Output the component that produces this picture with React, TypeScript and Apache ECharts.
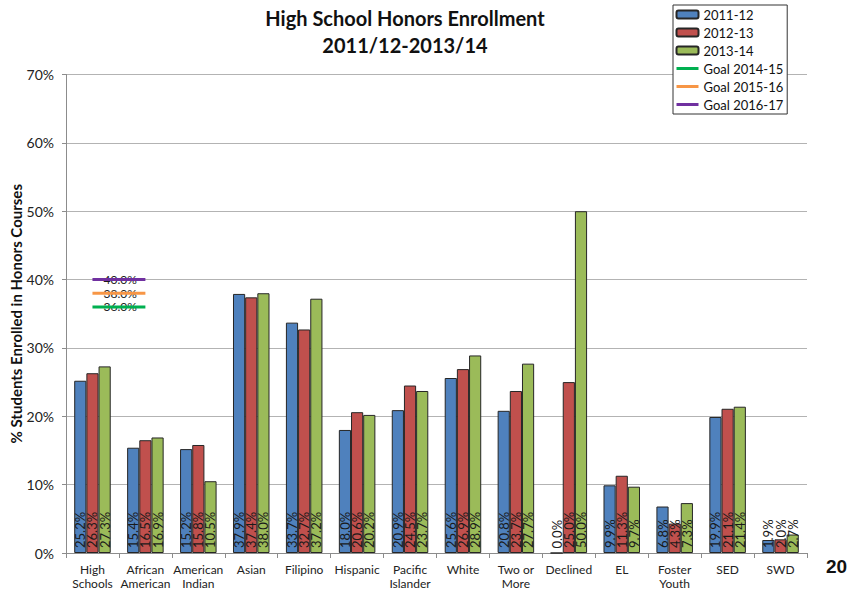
import React, { useEffect, useRef } from "react";
import * as echarts from "echarts";

const categories = [
  "High\nSchools", "African\nAmerican", "American\nIndian", "Asian", "Filipino", "Hispanic",
  "Pacific\nIslander", "White", "Two or\nMore", "Declined", "EL", "Foster\nYouth", "SED", "SWD",
];
const years = ["2011-12", "2012-13", "2013-14"];
const values2011 = [25.2, 15.4, 15.2, 37.9, 33.7, 18.0, 20.9, 25.6, 20.8, 0.0, 9.9, 6.8, 19.9, 1.9];
const values2012 = [26.3, 16.5, 15.8, 37.4, 32.7, 20.6, 24.5, 26.9, 23.7, 25.0, 11.3, 4.3, 21.1, 2.0];
const values2013 = [27.3, 16.9, 10.5, 38.0, 37.2, 20.2, 23.7, 28.9, 27.7, 50.0, 9.7, 7.3, 21.4, 2.7];
const goalNames = ["Goal 2014-15", "Goal 2015-16", "Goal 2016-17"];
const goalValues = [36, 38, 40];
const goalSpan = 2; // goal lines drawn across the first two categories
const yTicks = { min: 0, max: 70, interval: 10 };

const barColors = ["#4F81BD", "#C0504D", "#9BBB59"];
const goalColors = ["#00B050", "#F79646", "#7030A0"];
const FONT = "Lato, 'Open Sans', sans-serif";

export default function App() {
  const ref = useRef<HTMLDivElement>(null);
  useEffect(() => {
    if (!ref.current) return;
    const chart = echarts.init(ref.current, undefined, { renderer: "svg" });
    const barSeries = [values2011, values2012, values2013].map((vals, i) => ({
      name: years[i],
      type: "bar",
      data: vals,
      barGap: "0%",
      barCategoryGap: "31%",
      itemStyle: { color: barColors[i], borderColor: "#262626", borderWidth: 1 },
      label: {
        show: true,
        position: "insideBottom",
        rotate: 90,
        align: "left",
        verticalAlign: "middle",
        distance: 5,
        fontSize: 13,
        fontFamily: FONT,
        color: "#1a1a1a",
        formatter: (p: any) => Number(p.value).toFixed(1) + "%",
      },
      z: 2,
    }));
    const goalSeries = goalValues.map((g, i) => ({
      name: goalNames[i],
      type: "line",
      data: categories.map((_, k) => (k < goalSpan ? g : null)),
      symbol: "none",
      showSymbol: false,
      lineStyle: { color: goalColors[i], width: 3 },
      itemStyle: { color: goalColors[i] },
      markPoint: {
        symbol: "circle",
        symbolSize: 0,
        silent: true,
        data: [
          {
            coord: [0, g],
            value: g,
            label: {
              show: true,
              position: "right",
              distance: 11,
              fontSize: 12,
              lineHeight: 12,
              fontFamily: FONT,
              color: "#1a1a1a",
              formatter: () => g.toFixed(1) + "%",
            },
          },
        ],
      },
      z: 5,
    }));
    chart.setOption({
      animation: false,
      backgroundColor: "#ffffff",
      grid: { left: 66, right: 43, top: 74.5, bottom: 37, containLabel: false, outerBoundsMode: "none" },
      legend: {
        orient: "vertical",
        left: 673,
        top: 5,
        backgroundColor: "#ffffff",
        borderColor: "#333333",
        borderWidth: 1,
        borderRadius: 0,
        padding: [3, 4, 3, 2],
        itemGap: 5,
        itemWidth: 22,
        itemHeight: 8,
        textStyle: { fontFamily: FONT, fontSize: 13, color: "#111111" },
        data: [
          ...years,
          ...goalNames.map((n) => ({ name: n, itemStyle: { opacity: 0 }, lineStyle: { width: 3 } })),
        ],
      },
      xAxis: {
        type: "category",
        data: categories,
        axisLine: { lineStyle: { color: "#8c8c8c" } },
        axisTick: { show: true, length: 5, interval: 0, lineStyle: { color: "#8c8c8c" } },
        axisLabel: {
          interval: 0,
          fontFamily: FONT,
          fontSize: 12,
          color: "#222222",
          margin: 9,
          lineHeight: 14,
        },
      },
      yAxis: {
        type: "value",
        min: yTicks.min,
        max: yTicks.max,
        interval: yTicks.interval,
        name: "% Students Enrolled in Honors Courses",
        nameLocation: "middle",
        nameGap: 43,
        nameMoveOverlap: false,
        nameTextStyle: { fontFamily: FONT, fontSize: 15, fontWeight: "bold", color: "#111111" },
        axisLine: { show: true, lineStyle: { color: "#8c8c8c" } },
        axisTick: { show: true, length: 4, lineStyle: { color: "#8c8c8c" } },
        axisLabel: {
          formatter: "{value}%",
          fontFamily: FONT,
          fontSize: 14,
          color: "#222222",
          margin: 12,
        },
        splitLine: { lineStyle: { color: "#b3b3b3", width: 1 } },
      },
      graphic: [
        {
          type: "text",
          x: 405,
          y: 4,
          style: {
            text: "High School Honors Enrollment\n2011/12-2013/14",
            align: "center",
            verticalAlign: "top",
            font: `bold 20px ${FONT}`,
            lineHeight: 27,
            fill: "#111111",
          },
        },
        {
          type: "text",
          x: 826,
          y: 557,
          style: {
            text: "20",
            font: "bold 19px 'Liberation Sans', Arial, sans-serif",
            fill: "#111111",
          },
        },
      ],
      series: [...barSeries, ...goalSeries],
    });
    return () => chart.dispose();
  }, []);
  return (
    <div
      ref={ref}
      style={{ position: "absolute", left: 0, top: 0, width: 850, height: 590, background: "#fff" }}
    />
  );
}
